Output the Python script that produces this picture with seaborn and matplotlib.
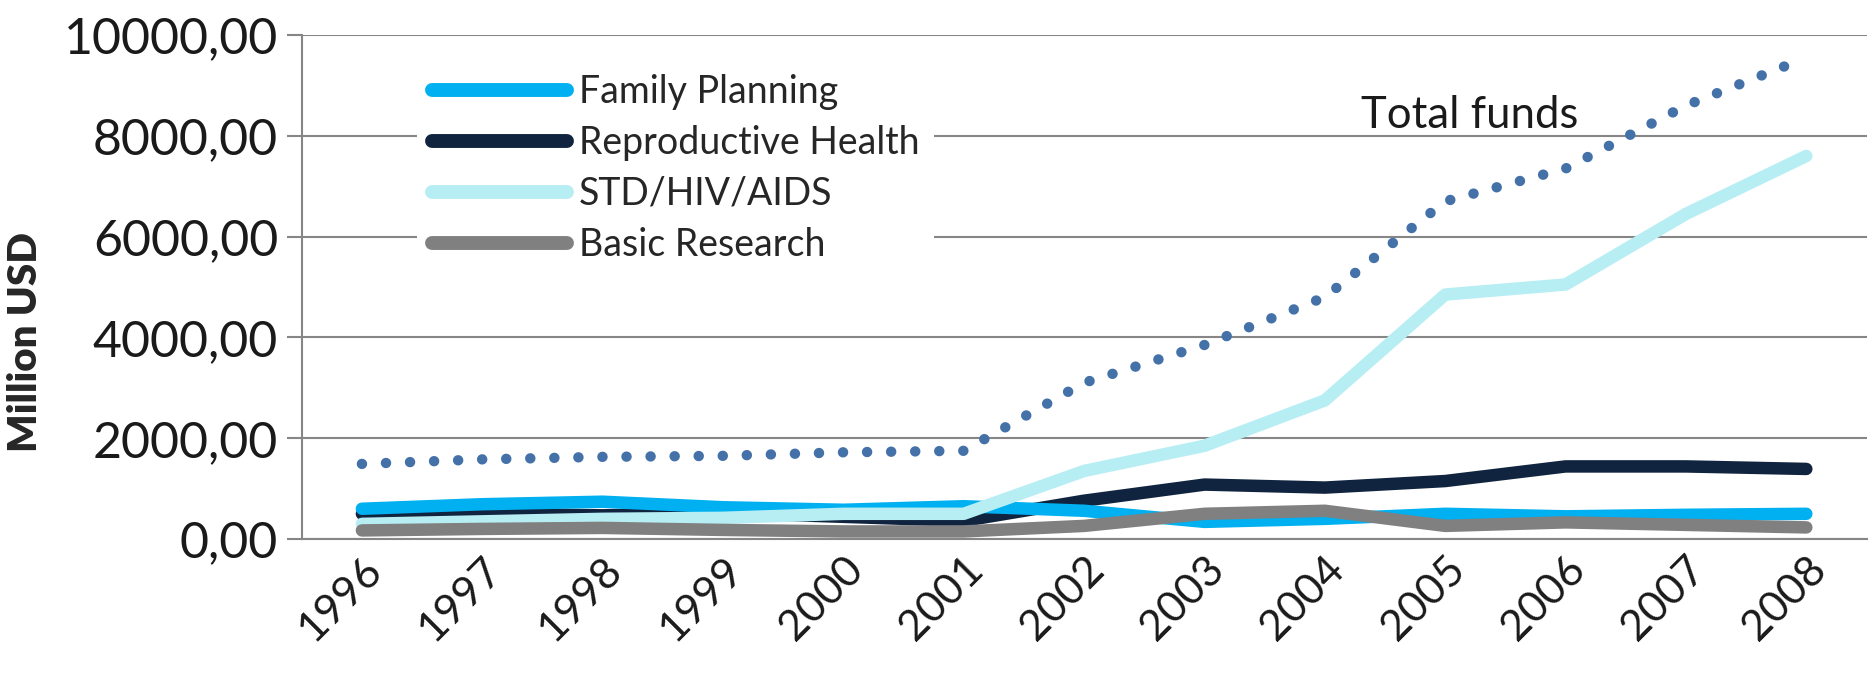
import matplotlib
matplotlib.use("Agg")
import matplotlib.pyplot as plt
import seaborn as sns
from matplotlib.ticker import FuncFormatter, MultipleLocator

sns.set_style("white")
plt.rcParams['font.family'] = ['Lato', 'DejaVu Sans']

# values (million USD)
years = [1996, 1997, 1998, 1999, 2000, 2001, 2002, 2003, 2004, 2005, 2006, 2007, 2008]
family_planning = [600, 690, 740, 630, 580, 650, 560, 340, 400, 500, 450, 480, 500]
reproductive_health = [500, 500, 470, 520, 440, 360, 760, 1080, 1020, 1150, 1440, 1440, 1390]
std_hiv_aids = [300, 350, 400, 420, 500, 500, 1350, 1850, 2750, 4850, 5050, 6450, 7600]
basic_research = [170, 200, 220, 180, 150, 150, 260, 500, 560, 260, 330, 280, 230]
total_funds = [1490, 1580, 1630, 1650, 1720, 1750, 3100, 3850, 4800, 6700, 7350, 8600, 9550]

fig, ax = plt.subplots(figsize=(18.74, 7.0), dpi=100)
fig.subplots_adjust(left=0.161, right=0.996, top=0.95, bottom=0.23)

lw = 9
sns.lineplot(x=years, y=reproductive_health, ax=ax, color="#10243F", linewidth=lw,
             label="Reproductive Health", solid_capstyle="round")
sns.lineplot(x=years, y=family_planning, ax=ax, color="#00B0F0", linewidth=lw,
             label="Family Planning", solid_capstyle="round")
sns.lineplot(x=years, y=std_hiv_aids, ax=ax, color="#B7EEF4", linewidth=lw,
             label="STD/HIV/AIDS", solid_capstyle="round")
sns.lineplot(x=years, y=basic_research, ax=ax, color="#808080", linewidth=lw,
             label="Basic Research", solid_capstyle="round")
sns.lineplot(x=years, y=total_funds, ax=ax, color="#4472A8", linewidth=7.5,
             linestyle=(0, (0.01, 2.3)), dash_capstyle="round", label="_nolegend_")

ax.text(2004.3, 8150, "Total funds", fontsize=31.5, color="#1a1a1a", ha="left", va="baseline")

ax.set_xlim(1995.5, 2008.5)
ax.set_ylim(0, 10000)
ax.yaxis.set_major_locator(MultipleLocator(2000))
ax.yaxis.set_major_formatter(FuncFormatter(lambda v, p: f"{v:.2f}".replace(".", ",")))
ax.set_xticks(years)
ax.set_xticklabels([str(y) for y in years], rotation=45, ha="right", rotation_mode="anchor",
                   fontsize=31, color="#1a1a1a")
ax.set_xticks([y + 0.5 for y in [1995] + years], minor=True)
ax.tick_params(axis="x", which="major", length=0, pad=8)
ax.tick_params(axis="x", which="minor", length=14, width=1.5, color="#868686", direction="out")
ax.tick_params(axis="y", labelsize=36, labelcolor="#1a1a1a", length=11, width=1.5,
               color="#868686", direction="out", left=True, pad=6)

ax.grid(axis="y", color="#868686", linewidth=1.5)
ax.set_axisbelow(True)
sns.despine(ax=ax, top=True, right=True)
for s in ["left", "bottom"]:
    ax.spines[s].set_color("#868686")
    ax.spines[s].set_linewidth(1.5)
ax.set_ylabel("Million USD", fontsize=29, fontweight="heavy")
ax.yaxis.set_label_coords(-0.165, 0.39)
ax.set_xlabel("")

handles, labels = ax.get_legend_handles_labels()
order = ["Family Planning", "Reproductive Health", "STD/HIV/AIDS", "Basic Research"]
hmap = dict(zip(labels, handles))
leg = ax.legend([hmap[l] for l in order], order, loc="upper left", bbox_to_anchor=(0.062, 0.99),
                fontsize=27, frameon=True, facecolor="white", edgecolor="none", framealpha=1,
                handlelength=3.6, labelspacing=0.4, handletextpad=0.3, borderpad=0.4)
for line in leg.get_lines():
    line.set_linewidth(10)
    line.set_solid_capstyle("round")

fig.savefig("out.png", dpi=100)
